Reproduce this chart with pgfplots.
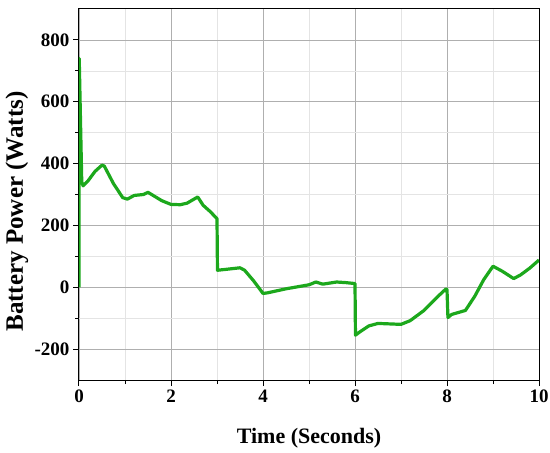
\documentclass[border=0pt]{standalone}
\usepackage{pgfplots}
\pgfplotsset{compat=1.18}
\usepackage{fontspec}
\setmainfont{Liberation Serif}
\definecolor{linegreen}{RGB}{28,168,28}
\definecolor{majgrid}{RGB}{175,175,175}
\definecolor{mingrid}{RGB}{228,228,228}
\begin{document}
\begin{tikzpicture}
\begin{axis}[
  scale only axis,
  width=460pt, height=371pt,
  xmin=0, xmax=10, ymin=-300, ymax=900,
  xtick={0,2,...,10}, ytick={-200,0,...,800},
  minor x tick num=1, minor y tick num=1,
  tick pos=left, tick align=outside,
  major tick length=6pt, minor tick length=4pt,
  grid=both,
  major grid style={majgrid, line width=0.8pt},
  minor grid style={mingrid, line width=0.6pt},
  axis line style={black, line width=1pt},
  tick style={black, line width=1pt},
  /pgf/number format/assume math mode=true,
  ticklabel style={font=\bfseries\fontsize{19}{22}\selectfont},
  xlabel={Time (Seconds)},
  ylabel={Battery Power (Watts)},
  every axis x label/.style={at={([yshift=-58pt]axis description cs:0.5,0)},
    anchor=center, font=\bfseries\fontsize{22}{26}\selectfont},
  every axis y label/.style={at={([xshift=-62pt,yshift=-17pt]axis description cs:0,0.5)},
    anchor=center, rotate=90, font=\bfseries\fontsize{25}{30}\selectfont},
]
\addplot[linegreen, line width=3.2pt, line join=round] coordinates {
(0,0) (0.005,740) (0.06,340) (0.09,328) (0.2,345) (0.35,375) (0.5,395)
(0.55,392) (0.75,335) (0.95,290) (1.05,285) (1.2,297) (1.4,300) (1.5,307)
(1.6,298) (1.8,280) (2.0,268) (2.2,267) (2.35,272) (2.5,285) (2.58,292)
(2.7,265) (2.85,245) (2.98,225) (3.0,222) (3.01,55) (3.2,58) (3.5,63)
(3.6,55) (3.8,20) (4.0,-20) (4.1,-18) (4.5,-5) (5.0,8) (5.15,17) (5.3,10)
(5.6,17) (5.8,15) (6.0,12) (6.01,-155) (6.1,-145) (6.3,-125) (6.5,-117)
(7.0,-120) (7.2,-108) (7.5,-75) (7.8,-30) (7.98,-5) (8.0,-8) (8.02,-98)
(8.1,-88) (8.4,-75) (8.6,-30) (8.8,25) (9.0,68) (9.2,52) (9.45,28)
(9.6,40) (9.8,62) (10,88)
};
\end{axis}
\pgfresetboundingbox
\path[use as bounding box] (current axis.south west) ++(-79pt,-72pt)
  rectangle ([xshift=11pt,yshift=9pt]current axis.north east);
\end{tikzpicture}
\end{document}
